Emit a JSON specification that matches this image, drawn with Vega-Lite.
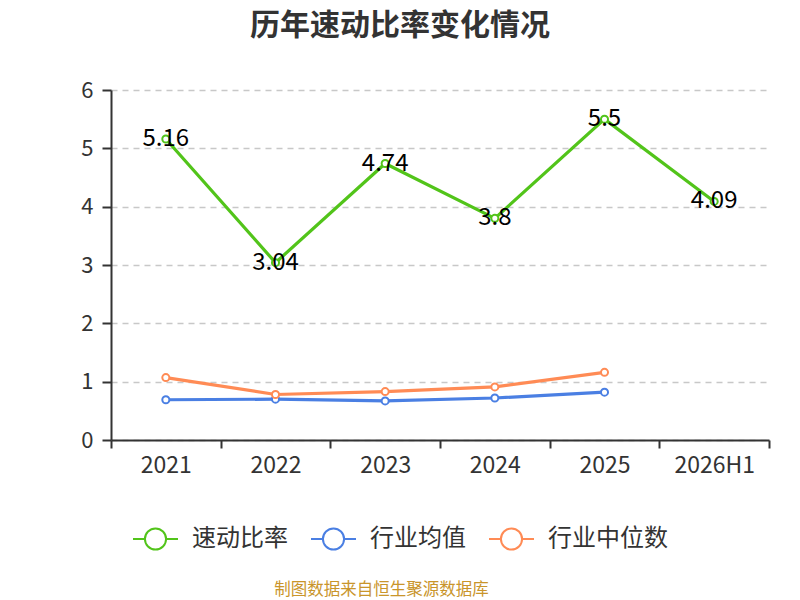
{
  "$schema": "https://vega.github.io/schema/vega-lite/v6.json",
  "autosize": {"type": "none"},
  "width": 658,
  "height": 350,
  "padding": {"left": 111, "top": 90, "right": 31, "bottom": 160},
  "background": "white",
  "title": {
    "text": "历年速动比率变化情况",
    "font": "Noto Sans CJK SC",
    "fontSize": 30,
    "fontWeight": "bold",
    "color": "#333333",
    "anchor": "middle",
    "dx": -40,
    "offset": 38
  },
  "config": {
    "font": "Noto Sans CJK SC",
    "view": {"stroke": null}
  },
  "data": {
    "values": [
      {"year": "2021", "series": "速动比率", "value": 5.16},
      {"year": "2022", "series": "速动比率", "value": 3.04},
      {"year": "2023", "series": "速动比率", "value": 4.74},
      {"year": "2024", "series": "速动比率", "value": 3.8},
      {"year": "2025", "series": "速动比率", "value": 5.5},
      {"year": "2026H1", "series": "速动比率", "value": 4.09},
      {"year": "2021", "series": "行业均值", "value": 0.69},
      {"year": "2022", "series": "行业均值", "value": 0.7},
      {"year": "2023", "series": "行业均值", "value": 0.67},
      {"year": "2024", "series": "行业均值", "value": 0.72},
      {"year": "2025", "series": "行业均值", "value": 0.82},
      {"year": "2021", "series": "行业中位数", "value": 1.07},
      {"year": "2022", "series": "行业中位数", "value": 0.78},
      {"year": "2023", "series": "行业中位数", "value": 0.83},
      {"year": "2024", "series": "行业中位数", "value": 0.91},
      {"year": "2025", "series": "行业中位数", "value": 1.16}
    ]
  },
  "encoding": {
    "x": {
      "field": "year",
      "type": "ordinal",
      "scale": {"domain": ["2021", "2022", "2023", "2024", "2025", "2026H1"]},
      "axis": {
        "title": "制图数据来自恒生聚源数据库",
        "titleColor": "#c9952b",
        "titleFontSize": 16.5,
        "titleFontWeight": "normal",
        "titleX": 270,
        "titleY": 149,
        "titleBaseline": "middle",
        "labelAngle": 0,
        "labelFontSize": 23,
        "labelColor": "#333333",
        "labelPadding": 6,
        "domainColor": "#333333",
        "domainWidth": 2,
        "tickColor": "#333333",
        "tickWidth": 2,
        "tickSize": 8,
        "tickBand": "extent",
        "grid": false
      }
    },
    "y": {
      "field": "value",
      "type": "quantitative",
      "scale": {"domain": [0, 6]},
      "axis": {
        "title": null,
        "values": [0, 1, 2, 3, 4, 5, 6],
        "labelFontSize": 22,
        "labelColor": "#333333",
        "labelPadding": 9,
        "domainColor": "#333333",
        "domainWidth": 2,
        "tickColor": "#333333",
        "tickWidth": 2,
        "tickSize": 9,
        "grid": true,
        "gridColor": "#c8c8c8",
        "gridDash": [6, 5],
        "gridWidth": 1.5
      }
    },
    "color": {
      "field": "series",
      "type": "nominal",
      "scale": {
        "domain": ["速动比率", "行业均值", "行业中位数"],
        "range": ["#52c41a", "#4a7fe3", "#ff8b55"]
      },
      "legend": {
        "title": null,
        "orient": "none",
        "direction": "horizontal",
        "legendX": 21,
        "legendY": 425,
        "padding": 0,
        "labelFontSize": 24,
        "labelColor": "#333333",
        "labelOffset": 13,
        "columnPadding": 19,
        "symbolType": "M-1,0H-0.47A0.47,0.47 0 1,1 0.47,0A0.47,0.47 0 1,1 -0.47,0M0.47,0H1",
        "symbolSize": 2025,
        "symbolStrokeWidth": 2,
        "symbolFillColor": "white"
      }
    }
  },
  "layer": [
    {
      "mark": {
        "type": "line",
        "strokeWidth": 3.2,
        "point": {"filled": false, "fill": "white", "size": 50, "strokeWidth": 2}
      }
    },
    {
      "transform": [{"filter": "datum.series === '速动比率'"}],
      "mark": {
        "type": "text",
        "fontSize": 24,
        "baseline": "middle",
        "align": "center"
      },
      "encoding": {
        "text": {"field": "value", "type": "quantitative"},
        "color": {"value": "#000000"}
      }
    }
  ]
}
